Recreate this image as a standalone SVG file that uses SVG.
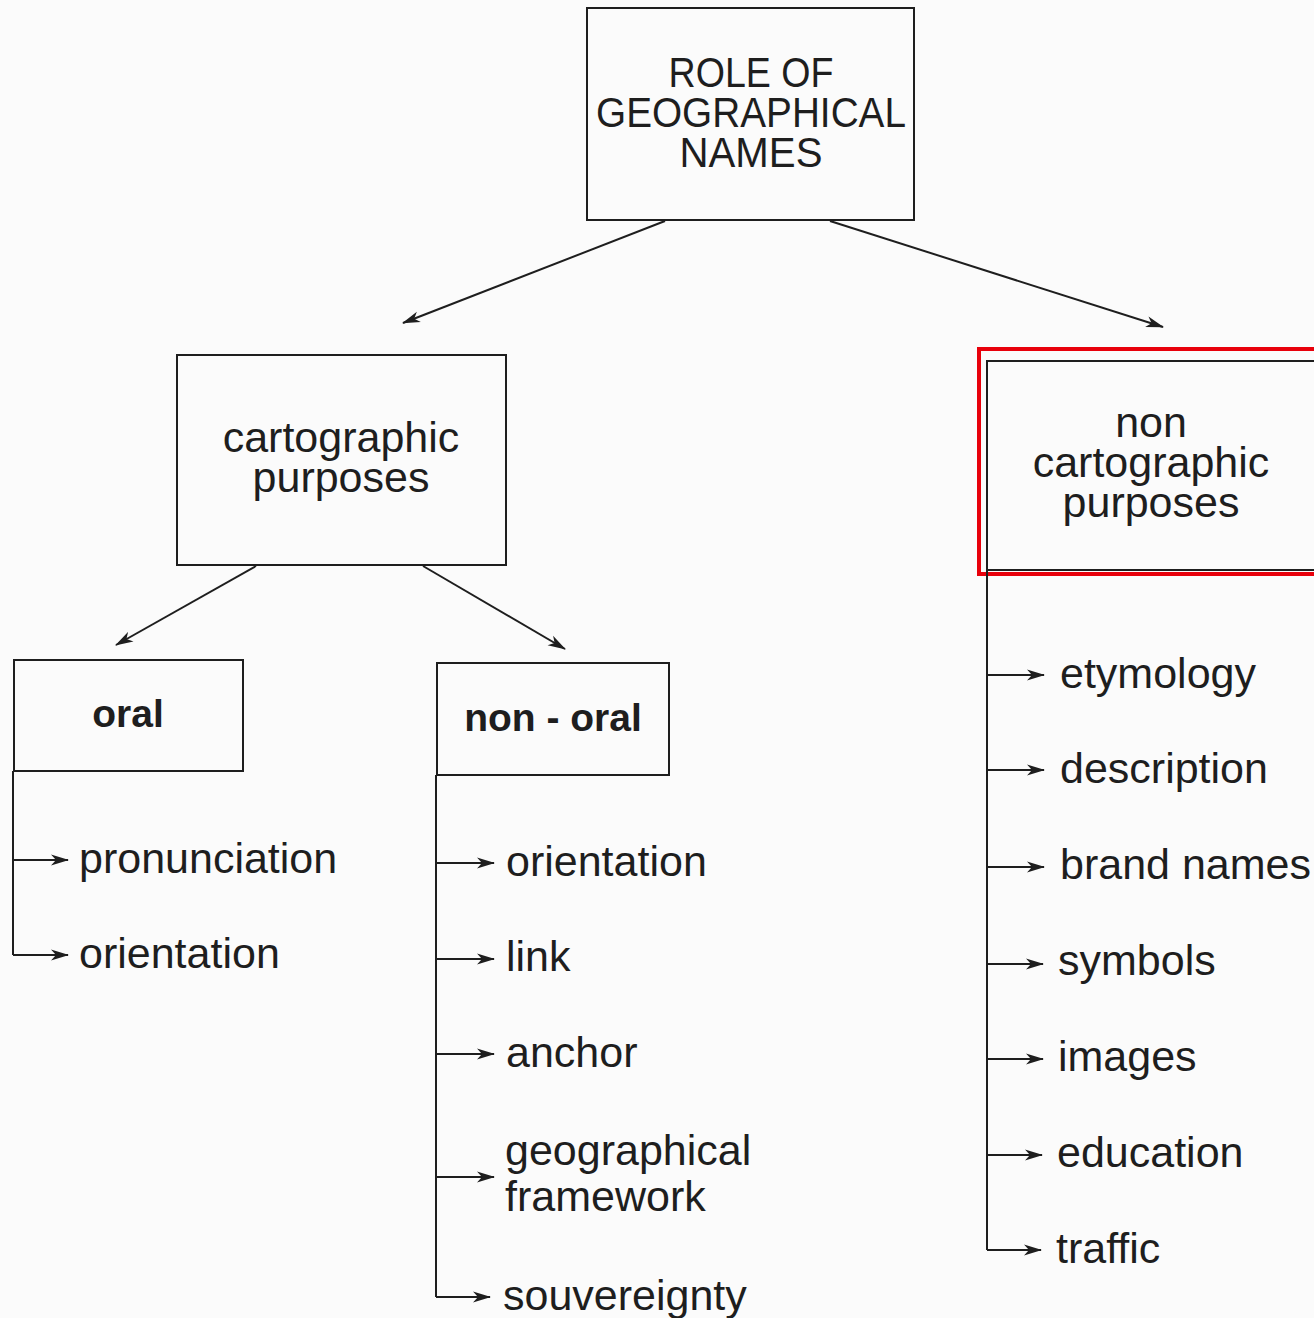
<svg xmlns="http://www.w3.org/2000/svg" width="1314" height="1318" viewBox="0 0 1314 1318">
<defs>
<marker id="ah" markerWidth="18" markerHeight="12" refX="17" refY="6" orient="auto" markerUnits="userSpaceOnUse">
<path d="M0,0.5 L18,6 L0,11.5 L5,6 Z" fill="#1e1e1e"/>
</marker>
<style>
.box{fill:none;stroke:#1e1e1e;stroke-width:2}
.ln{fill:none;stroke:#1e1e1e;stroke-width:2}
.ar{fill:none;stroke:#1e1e1e;stroke-width:2;marker-end:url(#ah)}
.t{font-family:"Liberation Sans",Arial,sans-serif;fill:#1e1e1e;font-size:43px}
.c{text-anchor:middle}
.b{font-weight:bold;font-size:39px}
.cap{font-size:42px}
</style>
</defs>
<rect width="1314" height="1318" fill="#fbfbfb"/>
<g id="root">
<rect class="box" x="587" y="8" width="327" height="212"/>
<text class="t c cap"><tspan x="751" y="87" textLength="165" lengthAdjust="spacingAndGlyphs">ROLE OF</tspan><tspan x="751" y="127" textLength="310" lengthAdjust="spacingAndGlyphs">GEOGRAPHICAL</tspan><tspan x="751" y="167" textLength="143" lengthAdjust="spacingAndGlyphs">NAMES</tspan></text>
</g>
<g id="cartographic">
<rect class="box" x="177" y="355" width="329" height="210"/>
<text class="t c"><tspan x="341" y="452">cartographic</tspan><tspan x="341" y="492">purposes</tspan></text>
</g>
<g id="noncartographic">
<rect class="box" x="987" y="361" width="330" height="209"/>
<text class="t c"><tspan x="1151" y="437">non</tspan><tspan x="1151" y="477">cartographic</tspan><tspan x="1151" y="517">purposes</tspan></text>
</g>
<g id="highlight">
<rect x="979" y="349" width="337" height="225" fill="none" stroke="#e8000b" stroke-width="4"/>
</g>
<g id="oral">
<rect class="box" x="14" y="660" width="229" height="111"/>
<text class="t c b" x="128" y="727">oral</text>
</g>
<g id="nonoral">
<rect class="box" x="437" y="663" width="232" height="112"/>
<text class="t c b" x="553" y="731">non - oral</text>
</g>
<g id="oral-items">
<text class="t" x="79" y="873">pronunciation</text>
<text class="t" x="79" y="968">orientation</text>
</g>
<g id="nonoral-items">
<text class="t" x="506" y="876">orientation</text>
<text class="t" x="506" y="971">link</text>
<text class="t" x="506" y="1067">anchor</text>
<text class="t"><tspan x="505" y="1165">geographical</tspan><tspan x="505" y="1211">framework</tspan></text>
<text class="t" x="503" y="1310">souvereignty</text>
</g>
<g id="noncart-items">
<text class="t" x="1060" y="688">etymology</text>
<text class="t" x="1060" y="783">description</text>
<text class="t" x="1060" y="879">brand names</text>
<text class="t" x="1058" y="975">symbols</text>
<text class="t" x="1058" y="1071">images</text>
<text class="t" x="1057" y="1167">education</text>
<text class="t" x="1056" y="1263">traffic</text>
</g>
<g id="connectors">
<line class="ar" x1="665" y1="221" x2="403" y2="323"/>
<line class="ar" x1="830" y1="221" x2="1163" y2="327"/>
<line class="ar" x1="256" y1="566" x2="116" y2="645"/>
<line class="ar" x1="423" y1="566" x2="565" y2="649"/>
<path class="ln" d="M13,771 V955"/>
<line class="ar" x1="13" y1="860" x2="68" y2="860"/>
<path class="ar" d="M13,955 H68"/>
<path class="ln" d="M436,775 V1297"/>
<line class="ar" x1="436" y1="863" x2="494" y2="863"/>
<line class="ar" x1="436" y1="959" x2="494" y2="959"/>
<line class="ar" x1="436" y1="1054" x2="494" y2="1054"/>
<line class="ar" x1="436" y1="1177" x2="494" y2="1177"/>
<line class="ar" x1="436" y1="1297" x2="490" y2="1297"/>
<path class="ln" d="M987,570 V1250"/>
<line class="ar" x1="987" y1="675" x2="1044" y2="675"/>
<line class="ar" x1="987" y1="770" x2="1044" y2="770"/>
<line class="ar" x1="987" y1="867" x2="1044" y2="867"/>
<line class="ar" x1="987" y1="964" x2="1043" y2="964"/>
<line class="ar" x1="987" y1="1059" x2="1043" y2="1059"/>
<line class="ar" x1="987" y1="1155" x2="1042" y2="1155"/>
<line class="ar" x1="987" y1="1250" x2="1041" y2="1250"/>
</g>
</svg>
